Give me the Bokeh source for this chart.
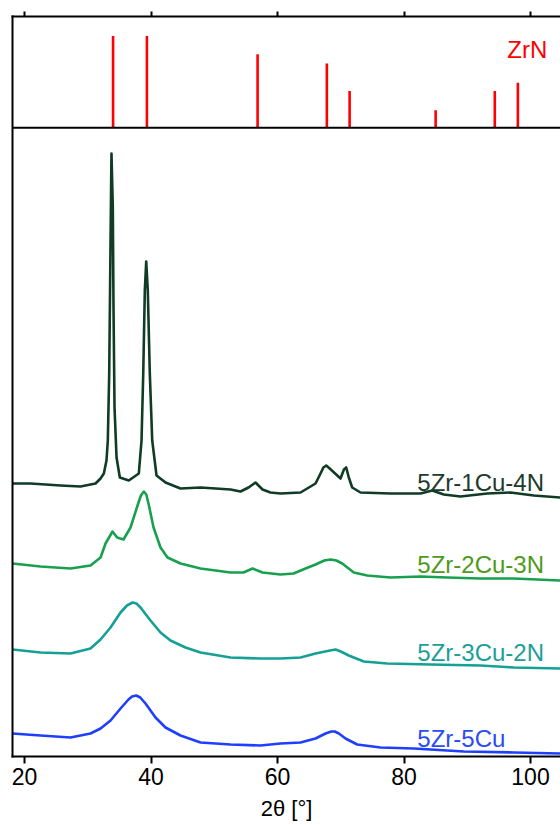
from bokeh.plotting import figure
from bokeh.models import Range1d, LinearAxis, FixedTicker, Span, Label
from bokeh.embed import file_html
from bokeh.resources import INLINE

# ---------------- data ----------------
x_ticks = [20, 40, 60, 80, 100]

# ZrN reference pattern (2theta, relative intensity)
zrn_pos = [34.0, 39.35, 56.85, 67.8, 71.4, 85.0, 94.35, 98.0]
zrn_int = [100, 100, 80, 70, 40, 19, 40, 49]

# stacked XRD patterns (a.u., already offset)
x_1cu4n = [18.1, 20.95, 25.69, 28.85, 31.23, 32.02, 32.54, 32.96, 33.17, 33.39, 33.55,
           33.71, 33.75, 33.96, 34.07, 34.23, 34.55, 35.07, 36.49, 38.07, 38.50, 38.77,
           39.02, 39.24, 39.49, 39.81, 40.19, 40.87, 42.29, 44.66, 47.83, 52.57, 54.15,
           55.42, 56.52, 57.63, 58.89, 60.47, 63.64, 66.01, 66.80, 67.25, 67.70, 68.25,
           69.96, 70.50, 70.86, 71.27, 71.81, 73.12, 77.87, 82.61, 84.46, 86.29, 88.93,
           93.15, 96.84, 100.52, 104.74]
y_1cu4n = [273, 273, 271, 270, 273, 278, 283, 296, 316, 383, 483,
           583, 603, 549, 449, 349, 299, 279, 276, 283, 316, 383,
           466, 495, 466, 383, 316, 281, 274, 268, 269, 267, 265,
           269, 274, 267, 264, 263, 264, 273, 283, 289, 291, 288,
           278, 287, 289, 279, 269, 264, 263, 263, 266, 262, 260,
           263, 264, 261, 259]

x_2cu3n = [18.1, 22.53, 27.27, 30.43, 32.02, 32.81, 33.91, 34.65, 35.65, 36.76, 37.87,
           38.40, 38.86, 39.25, 39.60, 40.40, 41.50, 42.61, 44.66, 47.83, 52.57, 54.62,
           56.05, 57.63, 60.47, 62.53, 64.43, 66.01, 67.40, 68.38, 69.30, 70.23, 72.06,
           74.18, 77.87, 82.61, 86.83, 92.09, 97.36, 104.74]
y_2cu3n = [193, 190, 188, 191, 199, 213, 225, 219, 217, 229, 251,
           261, 265, 262, 253, 229, 209, 199, 193, 188, 184, 184,
           188, 184, 182, 183, 188, 192, 196, 197, 196, 193, 184,
           181, 179, 180, 179, 178, 178, 176]

x_3cu2n = [18.1, 22.53, 27.27, 30.43, 32.02, 33.60, 35.18, 36.20, 37.08, 37.70, 38.34,
           39.92, 41.50, 43.08, 45.45, 47.83, 52.57, 57.31, 60.47, 63.64, 66.01, 68.30,
           69.17, 70.00, 71.27, 73.64, 77.34, 84.19, 92.09, 97.36, 104.74]
y_3cu2n = [107, 104, 103, 108, 117, 129, 144, 151, 154, 153, 149,
           136, 124, 116, 109, 104, 99, 98, 98, 99, 103, 106,
           107, 105, 101, 95, 93, 92, 91, 89, 88]

x_5cu = [18.1, 22.53, 27.27, 30.43, 32.02, 33.60, 35.18, 36.44, 37.00, 37.66, 38.30,
         39.13, 40.71, 42.29, 44.66, 47.83, 52.57, 57.31, 60.47, 63.64, 66.01, 67.59,
         68.50, 69.06, 69.70, 70.75, 72.60, 76.28, 81.55, 89.45, 97.36, 104.74]
y_5cu = [23, 21, 19, 23, 28, 36, 48, 57, 60, 61, 59,
         53, 39, 29, 21, 14, 12, 11, 13, 14, 18, 23,
         25, 25, 23, 18, 12, 9, 8, 5, 4, 3]

series_names = ["5Zr-1Cu-4N", "5Zr-2Cu-3N", "5Zr-3Cu-2N", "5Zr-5Cu"]

# ---------------- layout / style ----------------
FONT = "Liberation Sans"
FIG_W, FIG_H = 560, 825
FRAME_H = 740
DIVIDER_PX = 628.7          # divider height above frame bottom (px)
STICK_PX_PER_UNIT = 0.918   # px per stick-intensity unit

line_colors = ["#103b25", "#17a04e", "#14a095", "#1f3fff"]
label_colors = ["#1c3b2c", "#4e9a1a", "#1c9e98", "#2a4cf5"]
label_x = 82.1
label_y = [274.5, 192, 104.5, 18.5]

p = figure(width=FIG_W, height=FIG_H,
           x_range=Range1d(18.1, 104.74), y_range=Range1d(0, FRAME_H),
           output_backend="svg", toolbar_location=None,
           min_border_left=12, min_border_right=0, min_border_top=16, min_border_bottom=69)
p.extra_y_ranges = {"sticks": Range1d(-DIVIDER_PX / STICK_PX_PER_UNIT,
                                      (FRAME_H - DIVIDER_PX) / STICK_PX_PER_UNIT)}
p.outline_line_color = None
p.grid.visible = False

# bottom axis
xa = p.below[0]
xa.ticker = FixedTicker(ticks=x_ticks)
xa.major_tick_out = 7
xa.major_tick_in = 0
xa.minor_tick_out = 0
xa.minor_tick_in = 0
xa.major_tick_line_width = 2
xa.axis_line_width = 2
xa.axis_line_cap = "square"
xa.major_label_text_font = FONT
xa.major_label_text_font_size = "23px"
xa.major_label_text_color = "black"
xa.major_label_standoff = 4
xa.axis_label = "2θ [°]"
xa.axis_label_text_font = FONT
xa.axis_label_text_font_size = "22px"
xa.axis_label_text_font_style = "normal"
xa.axis_label_text_color = "black"
xa.axis_label_standoff = 8

# left axis: line only
ya = p.left[0]
ya.ticker = FixedTicker(ticks=[])
ya.major_tick_out = 0
ya.major_tick_in = 0
ya.minor_tick_out = 0
ya.minor_tick_in = 0
ya.major_label_text_font_size = "1px"
ya.major_label_text_color = None
ya.major_label_standoff = 0
ya.axis_line_width = 2
ya.axis_line_cap = "square"

# top axis: outward ticks, no labels
top = LinearAxis(ticker=FixedTicker(ticks=x_ticks), major_tick_out=5, major_tick_in=0,
                 minor_tick_out=0, minor_tick_in=0, major_tick_line_width=2,
                 axis_line_width=2, axis_line_cap="square",
                 major_label_text_font_size="1px", major_label_text_color=None,
                 major_label_standoff=0)
p.add_layout(top, "above")

# divider between reference panel and patterns
p.add_layout(Span(location=0, dimension="width", y_range_name="sticks",
                  line_color="black", line_width=2))

# ZrN sticks
p.segment(x0=zrn_pos, y0=[0] * len(zrn_pos), x1=zrn_pos, y1=zrn_int,
          y_range_name="sticks", line_color="#ff0000", line_width=2.6, line_cap="butt")
p.add_layout(Label(x=102.64, y=85, y_range_name="sticks", text="ZrN",
                   text_align="right", text_baseline="alphabetic",
                   text_font=FONT, text_font_size="24px", text_color="#ff0000"))

# patterns
xs = [x_1cu4n, x_2cu3n, x_3cu2n, x_5cu]
ys = [y_1cu4n, y_2cu3n, y_3cu2n, y_5cu]
for x, y, c in zip(xs, ys, line_colors):
    p.line(x, y, line_color=c, line_width=2.6, line_join="round")

for name, ly, c in zip(series_names, label_y, label_colors):
    p.add_layout(Label(x=label_x, y=ly, text=name, text_align="left",
                       text_baseline="alphabetic", text_font=FONT,
                       text_font_size="24px", text_color=c))

open("out.html", "w").write(file_html(p, INLINE))
